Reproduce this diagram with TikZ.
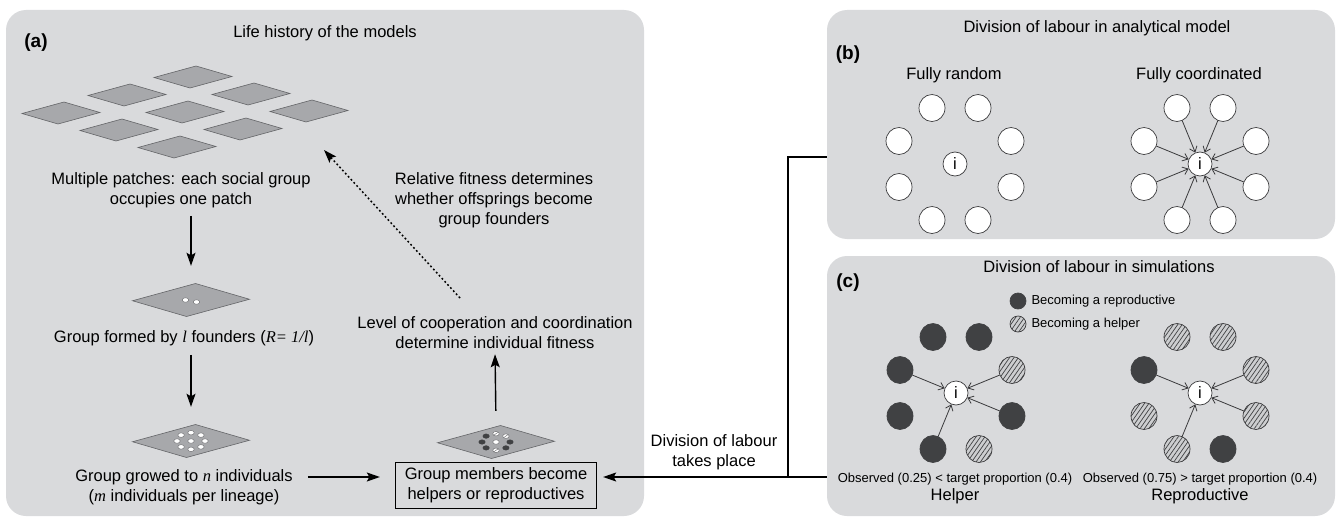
\documentclass[tikz,border=0pt]{standalone}
\usepackage{fontspec}
\setmainfont{Liberation Sans}
\newfontfamily\varit{Liberation Serif}
\newcommand{\vn}[1]{{\varit\itshape #1}}
\usetikzlibrary{positioning,arrows.meta,shapes.geometric,patterns.meta}

\definecolor{panelgray}{RGB}{217,218,220}
\definecolor{patchgray}{RGB}{167,168,171}
\definecolor{patchline}{RGB}{100,101,104}
\definecolor{darkdot}{RGB}{64,65,67}
\definecolor{hatchgray}{RGB}{205,206,208}
\definecolor{ringline}{RGB}{58,58,60}

\tikzset{
  panel/.style={fill=panelgray, draw=none, rounded corners=20pt, inner sep=0pt},
  txt/.style={font=\fontsize{16.5}{20}\selectfont, align=center, inner sep=1pt},
  smalltxt/.style={font=\fontsize{13}{15}\selectfont, inner sep=1pt},
  tag/.style={font=\fontsize{19}{22}\selectfont\bfseries, inner sep=1pt},
  flow/.style={line width=1.4pt, -{Stealth[length=13pt,width=9pt,inset=2.5pt]}},
  dotflow/.style={line width=1.5pt, dash pattern=on 1.8pt off 2.4pt, -{Stealth[length=13pt,width=9pt,inset=2.5pt]}},
  wire/.style={line width=1.3pt},
  spot/.style={inner sep=0pt},
  patchfill/.style={fill=patchgray, draw=patchline, line width=0.6pt},
  patch/.pic={\path[patchfill] (-39,0.5) -- (3,-11) -- (39,-0.5) -- (-3,11) -- cycle;},
  dot/.style={ellipse, draw=patchline, line width=0.4pt, fill=white, minimum width=6.5pt, minimum height=4.5pt, inner sep=0pt},
  reprodot/.style={dot, fill=darkdot, draw=darkdot},
  helperdot/.style={dot, path picture={\draw[line width=0.4pt, draw=patchline] (path picture bounding box.south west) -- (path picture bounding box.north east);}},
  member/.style={ellipse, draw=ringline, line width=0.7pt, fill=white, minimum width=26pt, minimum height=27pt, inner sep=0pt},
  repro/.style={member, fill=darkdot, draw=darkdot},
  helper/.style={member, preaction={fill=hatchgray}, pattern={Lines[angle=55,distance=3.6pt,line width=0.7pt]}, pattern color=darkdot},
  focal/.style={member, minimum width=24pt, minimum height=24pt, font=\fontsize{16.5}{19}\selectfont},
  link/.style={line width=0.8pt, draw=ringline, -{Straight Barb[length=5pt,width=8pt]}},
}

\begin{document}
\begin{tikzpicture}[x=1pt,y=-1pt]
\useasboundingbox (0,0) rectangle (1338,519);

% panels
\node[panel, minimum width=638pt, minimum height=506pt] (pa) at (325,263) {};
\node[panel, minimum width=508pt, minimum height=229pt] (pb) at (1081,124.5) {};
\node[panel, minimum width=508pt, minimum height=260pt] (pc) at (1081,386) {};

% (a) life history
\node[tag] (taga) at (36,43) {(a)};
\node[txt] (titlea) at (325,33) {Life history of the models};

\foreach \i in {-1,0,1}
  \foreach \j in {-1,0,1}
    \pic at ({185+58*\i+66*\j},{112+17*\i-18*\j}) {patch};

\node[txt] (multi) at (181,190) {Multiple patches: each social group\\occupies one patch};

\pic[scale=1.5] at (191,300) {patch};
\node[spot, minimum width=117pt, minimum height=34pt] (pf) at (191,300) {};
\node[dot] (fd1) at (185.5,300) {};
\node[dot] (fd2) at (196.5,302) {};
\node[txt] (foundtxt) at (184,338) {Group formed by \vn{l} founders (\vn{R= 1/l})};

\pic[scale=1.5] at (191,441) {patch};
\node[spot, minimum width=117pt, minimum height=34pt] (pg) at (191,441) {};
\foreach \n/\dx/\dy in {0/0/0, 1/14/0, 2/9.9/-5.9, 3/0/-8.3, 4/-9.9/-5.9,
                        5/-14/0, 6/-9.9/5.9, 7/0/8.3, 8/9.9/5.9}
  \node[dot] (gd\n) at ({191+\dx},{441+\dy}) {};
\node[txt] (growtxt) at (184,487) {Group growed to \vn{n} individuals\\(\vn{m} individuals per lineage)};

\pic[scale=1.5] at (496,442) {patch};
\node[spot, minimum width=117pt, minimum height=34pt] (pm) at (496,442) {};
\foreach \n/\dx/\dy/\kind in {0/0/0/dot, 1/14/0/reprodot, 2/9.9/-5.9/helperdot, 3/0/-8.3/helperdot,
                              4/-9.9/-5.9/reprodot, 5/-14/0/reprodot, 6/-9.9/5.9/reprodot,
                              7/0/8.3/helperdot, 8/9.9/5.9/reprodot}
  \node[\kind] (md\n) at ({496+\dx},{442+\dy}) {};

\node[txt, draw, line width=1.3pt, minimum width=201pt, minimum height=46pt] (box) at (496,485.5)
  {Group members become\\helpers or reproductives};
\node[txt] (coop) at (495,333) {Level of cooperation and coordination\\determine individual fitness};
\node[txt] (relfit) at (494,200) {Relative fitness determines\\whether offsprings become\\group founders};

\coordinate (fitup) at (460,298);
\coordinate (patchesend) at (324,150);

% link between panels
\coordinate (jt) at (788,157);
\coordinate (jb) at (788,477);

\draw[flow, shorten <=7pt, shorten >=17pt] (multi.south -| pf) -- (pf.north);
\draw[flow, shorten <=8pt, shorten >=17pt] (foundtxt.south -| pf) -- (pg.north);
\draw[flow, shorten <=14pt, shorten >=15pt] (growtxt.east |- jb) -- (box.west |- jb);
\draw[flow, shorten <=14pt, shorten >=4pt] (pm.north) -- (coop.south);
\draw[dotflow] (fitup) -- (patchesend);

\node[txt] (dltxt) at (714,452) {Division of labour\\takes place};
\draw[wire] (pb.west |- jt) -- (jt) -- (jb);
\draw[wire] (pc.west |- jb) -- (jb);
\draw[flow, shorten >=6pt] (jb) -- (box.east |- jb);

% (b) analytical model
\node[tag] (tagb) at (848,55) {(b)};
\node[txt] (titleb) at (1097,28) {Division of labour in analytical model};
\node[txt] (rand) at (954,75) {Fully random};
\node[txt] (coord) at (1199,75) {Fully coordinated};

\node[focal] (bri) at (955,164) {i};
\node[focal] (bci) at (1200,164) {i};
\foreach \n/\dx/\dy in {1/-23/-56, 2/23/-56, 3/56/-23, 4/56/23,
                        5/23/56, 6/-23/56, 7/-56/23, 8/-56/-23}
{
  \node[member] (br\n) at ({955+\dx},{164+\dy}) {};
  \node[member] (bc\n) at ({1200+\dx},{164+\dy}) {};
  \draw[link] (bc\n) -- (bci);
}

% (c) simulations
\node[tag] (tagc) at (848,283) {(c)};
\node[txt] (titlec) at (1099,267) {Division of labour in simulations};
\node[repro, minimum width=16pt, minimum height=16pt] (lgr) at (1018,301) {};
\node[helper, minimum width=16pt, minimum height=16pt] (lgh) at (1018,324) {};
\node[smalltxt, right=4pt of lgr] (lgrt) {Becoming a reproductive};
\node[smalltxt, right=4pt of lgh] (lght) {Becoming a helper};

\node[focal] (chi) at (956,393) {i};
\node[focal] (cri) at (1200,393) {i};
\foreach \n/\dx/\dy/\kind in {1/-23/-56/repro, 2/23/-56/repro, 3/56/-23/helper, 4/56/23/repro,
                              5/23/56/helper, 6/-23/56/repro, 7/-56/23/repro, 8/-56/-23/repro}
  \node[\kind] (ch\n) at ({956+\dx},{393+\dy}) {};
\foreach \n/\dx/\dy/\kind in {1/-23/-56/helper, 2/23/-56/helper, 3/56/-23/helper, 4/56/23/helper,
                              5/23/56/repro, 6/-23/56/helper, 7/-56/23/helper, 8/-56/-23/repro}
  \node[\kind] (cr\n) at ({1200+\dx},{393+\dy}) {};
\foreach \n in {8,3,4,6}
{
  \draw[link] (ch\n) -- (chi);
  \draw[link] (cr\n) -- (cri);
}

\node[smalltxt] (obsh) at (955,479) {Observed (0.25) < target proportion (0.4)};
\node[txt, below=1pt of obsh] (helpt) {Helper};
\node[smalltxt] (obsr) at (1200,479) {Observed (0.75) > target proportion (0.4)};
\node[txt, below=1pt of obsr] (rept) {Reproductive};
\end{tikzpicture}
\end{document}
